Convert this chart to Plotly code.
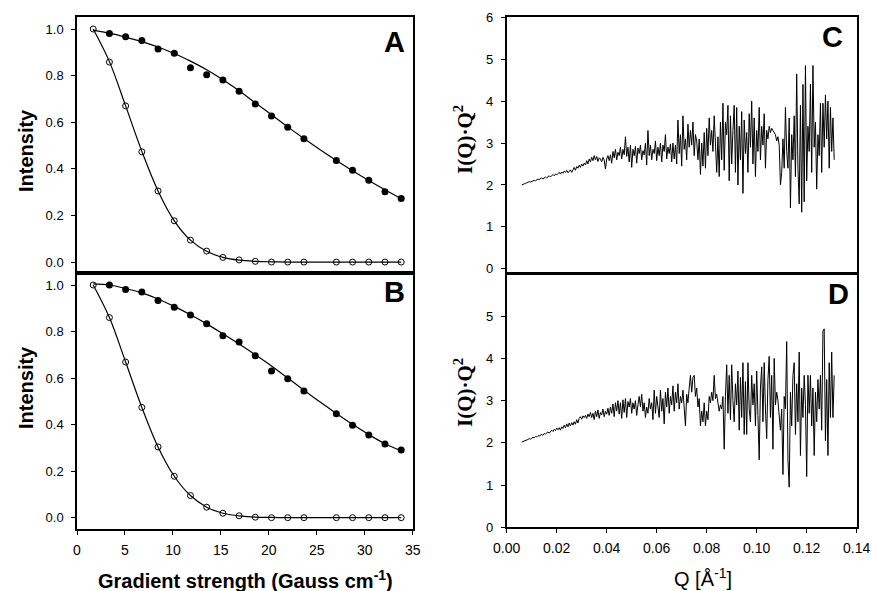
"""Diffusion decay curves (A, B) and Kratky plots (C, D)."""

import plotly.graph_objects as go

# gradient strength (Gauss cm^-1)
grad_open = [1.69, 3.38, 5.07, 6.76, 8.45, 10.14, 11.83, 13.52, 15.21, 16.9,
             18.59, 20.28, 21.97, 23.66, 27.04, 28.73, 30.42, 32.11, 33.8]
grad_filled = grad_open[1:]
grad_fit = [1.69, 3.38, 5.07, 6.76, 8.45, 10.14, 11.83, 13.52, 15.21, 16.9,
            18.59, 20.28, 21.97, 23.66, 25.35, 27.04, 28.73, 30.42, 32.11, 33.8]

# panel A
a_open = [1.0, 0.858, 0.67, 0.473, 0.305, 0.177, 0.094, 0.047, 0.02, 0.009,
          0.003, 0.0, 0.0, 0.0, 0.0, 0.0, 0.0, 0.0, 0.0]
a_filled = [0.981, 0.967, 0.951, 0.914, 0.896, 0.834, 0.804, 0.781, 0.733,
            0.678, 0.627, 0.578, 0.529, 0.436, 0.394, 0.351, 0.302, 0.273]
a_open_fit = [1.0, 0.86, 0.67, 0.475, 0.305, 0.177, 0.094, 0.046, 0.02, 0.008,
              0.003, 0.001, 0.0, 0.0, 0.0, 0.0, 0.0, 0.0, 0.0, 0.0]
a_filled_fit = [0.995, 0.982, 0.965, 0.946, 0.922, 0.895, 0.862, 0.825, 0.782, 0.735,
                0.683, 0.632, 0.58, 0.53, 0.482, 0.436, 0.392, 0.35, 0.31, 0.272]

# panel B
b_open = [1.0, 0.86, 0.669, 0.474, 0.304, 0.178, 0.095, 0.045, 0.019, 0.008,
          0.002, 0.0, 0.0, 0.0, 0.0, 0.0, 0.0, 0.0, 0.0]
b_filled = [1.0, 0.981, 0.97, 0.933, 0.904, 0.871, 0.834, 0.782, 0.755,
            0.696, 0.63, 0.597, 0.544, 0.447, 0.397, 0.355, 0.317, 0.291]
b_open_fit = [1.0, 0.86, 0.669, 0.474, 0.304, 0.178, 0.095, 0.045, 0.019, 0.008,
              0.002, 0.001, 0.0, 0.0, 0.0, 0.0, 0.0, 0.0, 0.0, 0.0]
b_filled_fit = [1.005, 1.0, 0.985, 0.966, 0.94, 0.908, 0.872, 0.833, 0.79, 0.746,
                0.7, 0.652, 0.6, 0.548, 0.497, 0.448, 0.401, 0.357, 0.318, 0.288]

# scattering vector Q (1/Angstrom)
q = [
    0.0060, 0.0065, 0.0070, 0.0075, 0.0080, 0.0085, 0.0090, 0.0095, 0.0100, 0.0105,
    0.0110, 0.0115, 0.0120, 0.0125, 0.0130, 0.0135, 0.0140, 0.0145, 0.0150, 0.0155,
    0.0160, 0.0165, 0.0170, 0.0175, 0.0180, 0.0185, 0.0190, 0.0195, 0.0200, 0.0205,
    0.0210, 0.0215, 0.0220, 0.0225, 0.0230, 0.0235, 0.0240, 0.0245, 0.0250, 0.0255,
    0.0260, 0.0265, 0.0270, 0.0275, 0.0280, 0.0285, 0.0290, 0.0295, 0.0300, 0.0305,
    0.0310, 0.0315, 0.0320, 0.0325, 0.0330, 0.0335, 0.0340, 0.0345, 0.0350, 0.0355,
    0.0360, 0.0365, 0.0370, 0.0375, 0.0380, 0.0385, 0.0390, 0.0395, 0.0400, 0.0405,
    0.0410, 0.0415, 0.0420, 0.0425, 0.0430, 0.0435, 0.0440, 0.0445, 0.0450, 0.0455,
    0.0460, 0.0465, 0.0470, 0.0475, 0.0480, 0.0485, 0.0490, 0.0495, 0.0500, 0.0505,
    0.0510, 0.0515, 0.0520, 0.0525, 0.0530, 0.0535, 0.0540, 0.0545, 0.0550, 0.0555,
    0.0560, 0.0565, 0.0570, 0.0575, 0.0580, 0.0585, 0.0590, 0.0595, 0.0600, 0.0605,
    0.0610, 0.0615, 0.0620, 0.0625, 0.0630, 0.0635, 0.0640, 0.0645, 0.0650, 0.0655,
    0.0660, 0.0665, 0.0670, 0.0675, 0.0680, 0.0685, 0.0690, 0.0695, 0.0700, 0.0705,
    0.0710, 0.0715, 0.0720, 0.0725, 0.0730, 0.0735, 0.0740, 0.0745, 0.0750, 0.0755,
    0.0760, 0.0765, 0.0770, 0.0775, 0.0780, 0.0785, 0.0790, 0.0795, 0.0800, 0.0805,
    0.0810, 0.0815, 0.0820, 0.0825, 0.0830, 0.0835, 0.0840, 0.0845, 0.0850, 0.0855,
    0.0860, 0.0865, 0.0870, 0.0875, 0.0880, 0.0885, 0.0890, 0.0895, 0.0900, 0.0905,
    0.0910, 0.0915, 0.0920, 0.0925, 0.0930, 0.0935, 0.0940, 0.0945, 0.0950, 0.0955,
    0.0960, 0.0965, 0.0970, 0.0975, 0.0980, 0.0985, 0.0990, 0.0995, 0.1000, 0.1005,
    0.1010, 0.1015, 0.1020, 0.1025, 0.1030, 0.1035, 0.1040, 0.1045, 0.1050, 0.1055,
    0.1060, 0.1065, 0.1070, 0.1075, 0.1080, 0.1085, 0.1090, 0.1095, 0.1100, 0.1105,
    0.1110, 0.1115, 0.1120, 0.1125, 0.1130, 0.1135, 0.1140, 0.1145, 0.1150, 0.1155,
    0.1160, 0.1165, 0.1170, 0.1175, 0.1180, 0.1185, 0.1190, 0.1195, 0.1200, 0.1205,
    0.1210, 0.1215, 0.1220, 0.1225, 0.1230, 0.1235, 0.1240, 0.1245, 0.1250, 0.1255,
    0.1260, 0.1265, 0.1270, 0.1275, 0.1280, 0.1285, 0.1290, 0.1295, 0.1300, 0.1305,
    0.1310,
]

# I(Q)*Q^2, panel C
kratky_c = [
    2.00, 2.02, 2.03, 2.04, 2.05, 2.06, 2.08, 2.07, 2.09, 2.10,
    2.11, 2.10, 2.12, 2.14, 2.13, 2.15, 2.17, 2.14, 2.18, 2.19,
    2.17, 2.20, 2.22, 2.19, 2.23, 2.25, 2.22, 2.26, 2.24, 2.28,
    2.30, 2.26, 2.31, 2.28, 2.33, 2.30, 2.35, 2.29, 2.34, 2.36,
    2.30, 2.38, 2.42, 2.35, 2.44, 2.40, 2.47, 2.42, 2.50, 2.45,
    2.52, 2.48, 2.58, 2.50, 2.62, 2.55, 2.66, 2.58, 2.70, 2.60,
    2.68, 2.56, 2.65, 2.62, 2.55, 2.66, 2.60, 2.38, 2.62, 2.70,
    2.58, 2.72, 2.52, 2.80, 2.65, 2.85, 2.60, 2.78, 2.70, 2.90,
    2.62, 2.85, 2.72, 3.15, 2.68, 2.90, 2.55, 2.95, 2.42, 2.85,
    2.70, 2.92, 2.52, 2.88, 2.75, 2.95, 2.60, 2.82, 2.72, 3.00,
    2.48, 3.30, 2.70, 2.95, 2.60, 2.85, 2.75, 3.05, 2.58, 2.90,
    2.70, 3.00, 2.55, 2.95, 2.80, 3.20, 2.62, 2.90, 2.75, 2.98,
    2.55, 3.00, 2.62, 2.95, 2.50, 3.55, 2.75, 3.20, 2.45, 3.65,
    2.85, 3.10, 2.60, 3.45, 2.90, 3.30, 2.95, 3.50, 2.70, 3.20,
    3.05, 2.60, 3.10, 2.25, 3.00, 2.45, 3.25, 2.40, 3.35, 2.70,
    3.60, 2.95, 3.30, 2.80, 3.65, 3.00, 2.30, 3.15, 2.20, 3.50,
    2.60, 3.95, 2.35, 3.50, 3.20, 3.90, 2.10, 3.65, 2.50, 3.30,
    3.90, 2.30, 3.85, 2.00, 3.40, 2.60, 3.75, 1.80, 3.55, 2.75,
    3.25, 2.30, 3.70, 2.90, 4.00, 2.50, 3.60, 2.20, 3.30, 2.80,
    3.85, 2.60, 3.40, 2.95, 3.70, 2.40, 3.30, 3.10, 3.40, 3.25,
    3.35, 3.30, 3.25, 3.20, 3.05, 3.15, 2.95, 2.00, 2.30, 3.10,
    2.40, 3.85, 2.80, 2.40, 3.60, 1.45, 3.20, 2.60, 3.65, 2.20,
    4.65, 2.40, 1.55, 3.90, 1.35, 4.40, 1.60, 4.85, 2.10, 3.40,
    2.80, 4.40, 2.30, 4.85, 2.90, 3.50, 1.90, 3.20, 2.70, 3.95,
    2.30, 3.95, 2.90, 4.15, 3.10, 4.00, 2.40, 3.85, 2.80, 3.60,
    2.60,
]

# I(Q)*Q^2, panel D
kratky_d = [
    2.02, 2.03, 2.05, 2.06, 2.07, 2.08, 2.10, 2.09, 2.11, 2.13,
    2.12, 2.15, 2.14, 2.17, 2.16, 2.19, 2.20, 2.18, 2.22, 2.21,
    2.24, 2.26, 2.23, 2.28, 2.30, 2.27, 2.32, 2.29, 2.35, 2.31,
    2.36, 2.30, 2.38, 2.34, 2.42, 2.36, 2.45, 2.38, 2.47, 2.40,
    2.48, 2.42, 2.50, 2.44, 2.55, 2.47, 2.58, 2.62, 2.56, 2.64,
    2.60, 2.65, 2.58, 2.68, 2.62, 2.72, 2.60, 2.70, 2.55, 2.75,
    2.62, 2.78, 2.58, 2.72, 2.66, 2.80, 2.62, 2.75, 2.68, 2.82,
    2.65, 2.85, 2.70, 2.92, 2.62, 2.95, 2.75, 3.00, 2.68, 2.95,
    2.58, 3.02, 2.72, 3.05, 2.60, 2.98, 2.85, 3.05, 2.70, 2.95,
    2.80, 3.00, 2.65, 2.90, 3.10, 2.85, 3.15, 2.75, 2.95, 2.60,
    2.85, 2.70, 3.05, 2.80, 2.95, 2.55, 3.25, 2.70, 3.10, 2.85,
    2.60, 3.25, 2.75, 3.05, 2.45, 3.20, 2.85, 3.30, 2.70, 3.10,
    2.90, 3.35, 2.75, 3.20, 2.95, 3.40, 2.80, 3.10, 2.95, 3.25,
    2.85, 2.40, 3.15, 2.95, 3.30, 3.60, 3.20, 3.55, 3.60, 3.10,
    3.30, 2.85, 3.05, 2.40, 2.75, 2.50, 2.95, 2.40, 2.75, 2.55,
    3.10, 2.95, 3.20, 3.00, 3.60, 3.05, 3.15, 2.95, 2.75, 2.90,
    2.80, 3.10, 1.85, 3.10, 3.85, 2.70, 3.60, 2.55, 3.85, 3.00,
    2.50, 3.40, 2.90, 3.70, 2.30, 3.55, 2.60, 3.90, 2.20, 3.45,
    2.20, 3.90, 2.80, 2.50, 3.60, 2.90, 3.40, 2.40, 3.70, 2.65,
    1.60, 3.30, 3.80, 2.50, 3.90, 2.80, 2.10, 3.50, 4.05, 2.60,
    3.60, 1.85, 4.00, 2.90, 3.20, 3.00, 2.70, 2.30, 2.80, 1.25,
    3.10, 2.80, 4.40, 1.60, 0.95, 3.20, 2.40, 3.60, 3.90, 2.20,
    3.40, 2.50, 4.15, 1.70, 3.30, 2.60, 3.60, 2.90, 1.20, 3.60,
    2.70, 3.60, 2.40, 3.30, 1.70, 3.20, 2.50, 3.50, 2.80, 3.60,
    2.30, 4.65, 4.70, 2.05, 3.50, 1.70, 3.90, 2.60, 4.15, 2.60,
    3.60,
]

W, H = 872, 591
FONT = "Liberation Sans, Arial, sans-serif"
SERIF = "Liberation Serif, Times New Roman, serif"


def px_x(p):
    return p / W


def px_y(p):
    return 1 - p / H


fig = go.Figure()

line = dict(color="black", width=1.2)
open_marker = dict(symbol="circle-open", size=6, color="black", line=dict(width=1))
filled_marker = dict(symbol="circle", size=7, color="black")

for xa, ya, o, f, of, ff in [("x", "y", a_open, a_filled, a_open_fit, a_filled_fit),
                             ("x2", "y2", b_open, b_filled, b_open_fit, b_filled_fit)]:
    fig.add_trace(go.Scatter(x=grad_fit, y=of, mode="lines", line=dict(shape="spline", **line),
                             xaxis=xa, yaxis=ya))
    fig.add_trace(go.Scatter(x=grad_fit, y=ff, mode="lines", line=dict(shape="spline", **line),
                             xaxis=xa, yaxis=ya))
    fig.add_trace(go.Scatter(x=grad_open, y=o, mode="markers", marker=open_marker,
                             xaxis=xa, yaxis=ya))
    fig.add_trace(go.Scatter(x=grad_filled, y=f, mode="markers", marker=filled_marker,
                             xaxis=xa, yaxis=ya))

fig.add_trace(go.Scatter(x=q, y=kratky_c, mode="lines", line=dict(color="black", width=1),
                         xaxis="x3", yaxis="y3"))
fig.add_trace(go.Scatter(x=q, y=kratky_d, mode="lines", line=dict(color="black", width=1),
                         xaxis="x4", yaxis="y4"))

left = [px_x(77), px_x(412.7)]
right = [px_x(506.7), px_x(856.7)]
frame = dict(showline=True, linecolor="black", linewidth=1.5, mirror=True,
             showgrid=False, zeroline=False, automargin=False)
tick_y = dict(ticks="outside", ticklen=4, tickcolor="black", tickwidth=1, ticklabelstandoff=5,
              tickfont=dict(family=FONT, size=13, color="black"), **frame)
tick_x = dict(ticks="outside", ticklen=4, tickcolor="black", tickwidth=1, ticklabelstandoff=3,
              tickfont=dict(family=FONT, size=14, color="black"), **frame)
no_tick = dict(ticks="", showticklabels=False, **frame)

fig.update_layout(
    width=W, height=H,
    margin=dict(l=0, r=0, t=0, b=0),
    paper_bgcolor="white", plot_bgcolor="white",
    showlegend=False,
    xaxis=dict(domain=left, range=[0, 35], anchor="y", **no_tick),
    yaxis=dict(domain=[px_y(273), px_y(17)], range=[-0.047, 1.0515], anchor="x",
               tickvals=[0, 0.2, 0.4, 0.6, 0.8, 1.0], ticktext=["0.0", "0.2", "0.4", "0.6", "0.8", "1.0"],
               **tick_y),
    xaxis2=dict(domain=left, range=[0, 35], anchor="y2", tickvals=[0, 5, 10, 15, 20, 25, 30, 35],
                **tick_x),
    yaxis2=dict(domain=[px_y(529.3), px_y(273)], range=[-0.05, 1.0516], anchor="x2",
                tickvals=[0, 0.2, 0.4, 0.6, 0.8, 1.0], ticktext=["0.0", "0.2", "0.4", "0.6", "0.8", "1.0"],
                **tick_y),
    xaxis3=dict(domain=right, range=[0, 0.14], anchor="y3", **no_tick),
    yaxis3=dict(domain=[px_y(273), px_y(17.3)], range=[-0.1, 6.0], anchor="x3",
                tickvals=[0, 1, 2, 3, 4, 5, 6], **tick_y),
    xaxis4=dict(domain=right, range=[0, 0.14], anchor="y4",
                tickvals=[0, 0.02, 0.04, 0.06, 0.08, 0.10, 0.12, 0.14],
                ticktext=["0.00", "0.02", "0.04", "0.06", "0.08", "0.10", "0.12", "0.14"],
                **tick_x),
    yaxis4=dict(domain=[px_y(527.3), px_y(274)], range=[0, 6.0], anchor="x4",
                tickvals=[0, 1, 2, 3, 4, 5], **tick_y),
)


def note(text, x, y, size, family=FONT, angle=0):
    fig.add_annotation(text=text, x=px_x(x), y=px_y(y), xref="paper", yref="paper",
                       showarrow=False, textangle=angle, xanchor="center", yanchor="middle",
                       font=dict(family=family, size=size, color="black"))


# panel letters
note("<b>A</b>", 394, 42, 29)
note("<b>B</b>", 394, 292, 29)
note("<b>C</b>", 832, 37, 29)
note("<b>D</b>", 838, 294, 29)

# axis titles
note("<b>Intensity</b>", 26, 151, 20, angle=-90)
note("<b>Intensity</b>", 26, 388, 20, angle=-90)
note("<b>Gradient strength (Gauss cm<sup>-1</sup>)</b>", 246, 579, 20)
note("<b>I(Q)·Q<sup>2</sup></b>", 463, 139, 21, family=SERIF, angle=-90)
note("<b>I(Q)·Q<sup>2</sup></b>", 463, 392, 21, family=SERIF, angle=-90)
note("Q [Å<sup>-1</sup>]", 703, 577, 20)

# the page body has a default 8px margin; drop it so the figure fills the window
fig.write_html("out.html", config={"displayModeBar": False},
               post_script="document.body.style.margin = '0px';")
